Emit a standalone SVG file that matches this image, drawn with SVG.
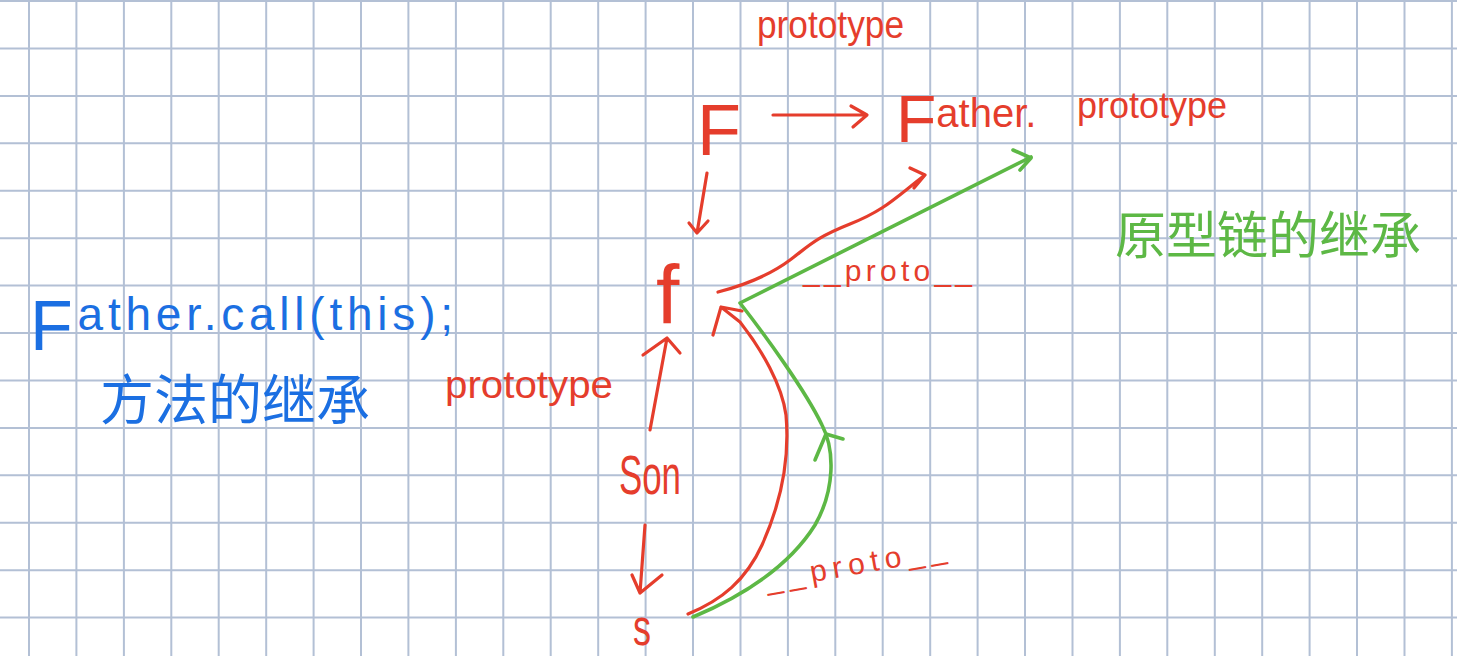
<svg xmlns="http://www.w3.org/2000/svg" width="1457" height="656" viewBox="0 0 1457 656">
<defs>
<style>
.grid{stroke:#b3c0d5;stroke-width:2;fill:none}
.r{fill:#e53d2c;font-family:"Liberation Sans","Noto Sans",sans-serif}
.b{fill:#1b6fe2;font-family:"Liberation Sans","Noto Sans","Noto Sans CJK SC",sans-serif}
.g{fill:#5db845;font-family:"Liberation Sans","Noto Sans CJK SC",sans-serif}
.rl{stroke:#e53d2c;stroke-width:3.2;fill:none;stroke-linecap:round;stroke-linejoin:round}
.gl{stroke:#5db845;stroke-width:3.6;fill:none;stroke-linecap:round;stroke-linejoin:round}
</style>
</defs>
<rect width="1457" height="656" fill="#ffffff"/>
<g id="grid">
<path class="grid" d="M29,0V656M76.4,0V656M123.9,0V656M171.3,0V656M218.7,0V656M266.2,0V656M313.6,0V656M361,0V656M408.4,0V656M455.9,0V656M503.3,0V656M550.7,0V656M598.2,0V656M645.6,0V656M693,0V656M740.5,0V656M787.9,0V656M835.3,0V656M882.7,0V656M930.2,0V656M977.6,0V656M1025,0V656M1072.5,0V656M1119.9,0V656M1167.3,0V656M1214.8,0V656M1262.2,0V656M1309.6,0V656M1357,0V656M1404.5,0V656M1451.9,0V656"/>
<path class="grid" d="M0,1H1457M0,48.4H1457M0,95.9H1457M0,143.3H1457M0,190.7H1457M0,238.2H1457M0,285.6H1457M0,333H1457M0,380.4H1457M0,427.9H1457M0,475.3H1457M0,522.7H1457M0,570.2H1457M0,617.6H1457"/>
</g>
<g id="connectors">
<path class="rl" d="M773,115 L866,115 M851,106 L867,115 L853,127"/>
<path class="rl" d="M707,173 L697,233 M689,223 L697,233 L708,221"/>
<path class="rl" d="M718,292 C745,285 770,275 790,260 S815,238 850,224 S895,198 925,175 M910,168 L925,175 L914,188"/>
<path class="rl" d="M650,430 L667,338 M643,355 L667,338 L680,353"/>
<path class="rl" d="M645,525 L640,593 M632,575 L640,593 L662,575"/>
<path class="rl" d="M688,614 C722,600 746,580 762,545 C780,505 790,460 786,415 C782,385 762,350 740,322 L721,307 M713,335 L721,307 L742,311"/>
<path class="gl" d="M693,617 C745,595 790,565 815,525 C835,490 835,450 822,425 C805,390 765,335 740,303 L1031,157"/>
<path class="gl" d="M1013,150 L1031,158 L1020,170"/>
<path class="gl" d="M815,460 L826,434 L843,439"/>
</g>
<g id="label-prototype-top"><text class="r" x="757" y="38" font-size="38" textLength="147" lengthAdjust="spacingAndGlyphs">prototype</text></g>
<g id="node-F"><text class="r" x="697" y="155" font-size="72">F</text></g>
<g id="node-father-prototype"><text class="r" font-size="40"><tspan x="896" y="142" font-size="66">F</tspan><tspan y="127">ather. </tspan><tspan x="1077" y="118" font-size="36">prototype</tspan></text></g>
<g id="node-f"><text class="r" x="656" y="324" font-size="84">f</text></g>
<g id="label-proto-upper"><text class="r" x="803" y="281" font-size="30" textLength="169" lengthAdjust="spacing">__proto__</text></g>
<g id="label-chain"><text class="g" x="1115" y="254" font-size="51">原型链的继承</text></g>
<g id="label-call"><text class="b" font-size="46" textLength="423" lengthAdjust="spacing"><tspan x="30" y="350" font-size="70">F</tspan><tspan y="330">ather.call(this);</tspan></text></g>
<g id="label-method"><text class="b" x="100" y="420" font-size="54" font-family="Noto Sans CJK SC,sans-serif">方法的继承</text></g>
<g id="label-prototype-left"><text class="r" x="445" y="398" font-size="38" textLength="168" lengthAdjust="spacingAndGlyphs">prototype</text></g>
<g id="node-Son"><text class="r" x="619" y="494" font-size="56" textLength="62" lengthAdjust="spacingAndGlyphs">Son</text></g>
<g id="node-s"><text class="r" x="633" y="645" font-size="52" textLength="18" lengthAdjust="spacingAndGlyphs">s</text></g>
<g id="label-proto-lower"><text class="r" x="767" y="590" font-size="30" textLength="183" lengthAdjust="spacing" transform="rotate(-10 767 590)">__proto__</text></g>
</svg>
